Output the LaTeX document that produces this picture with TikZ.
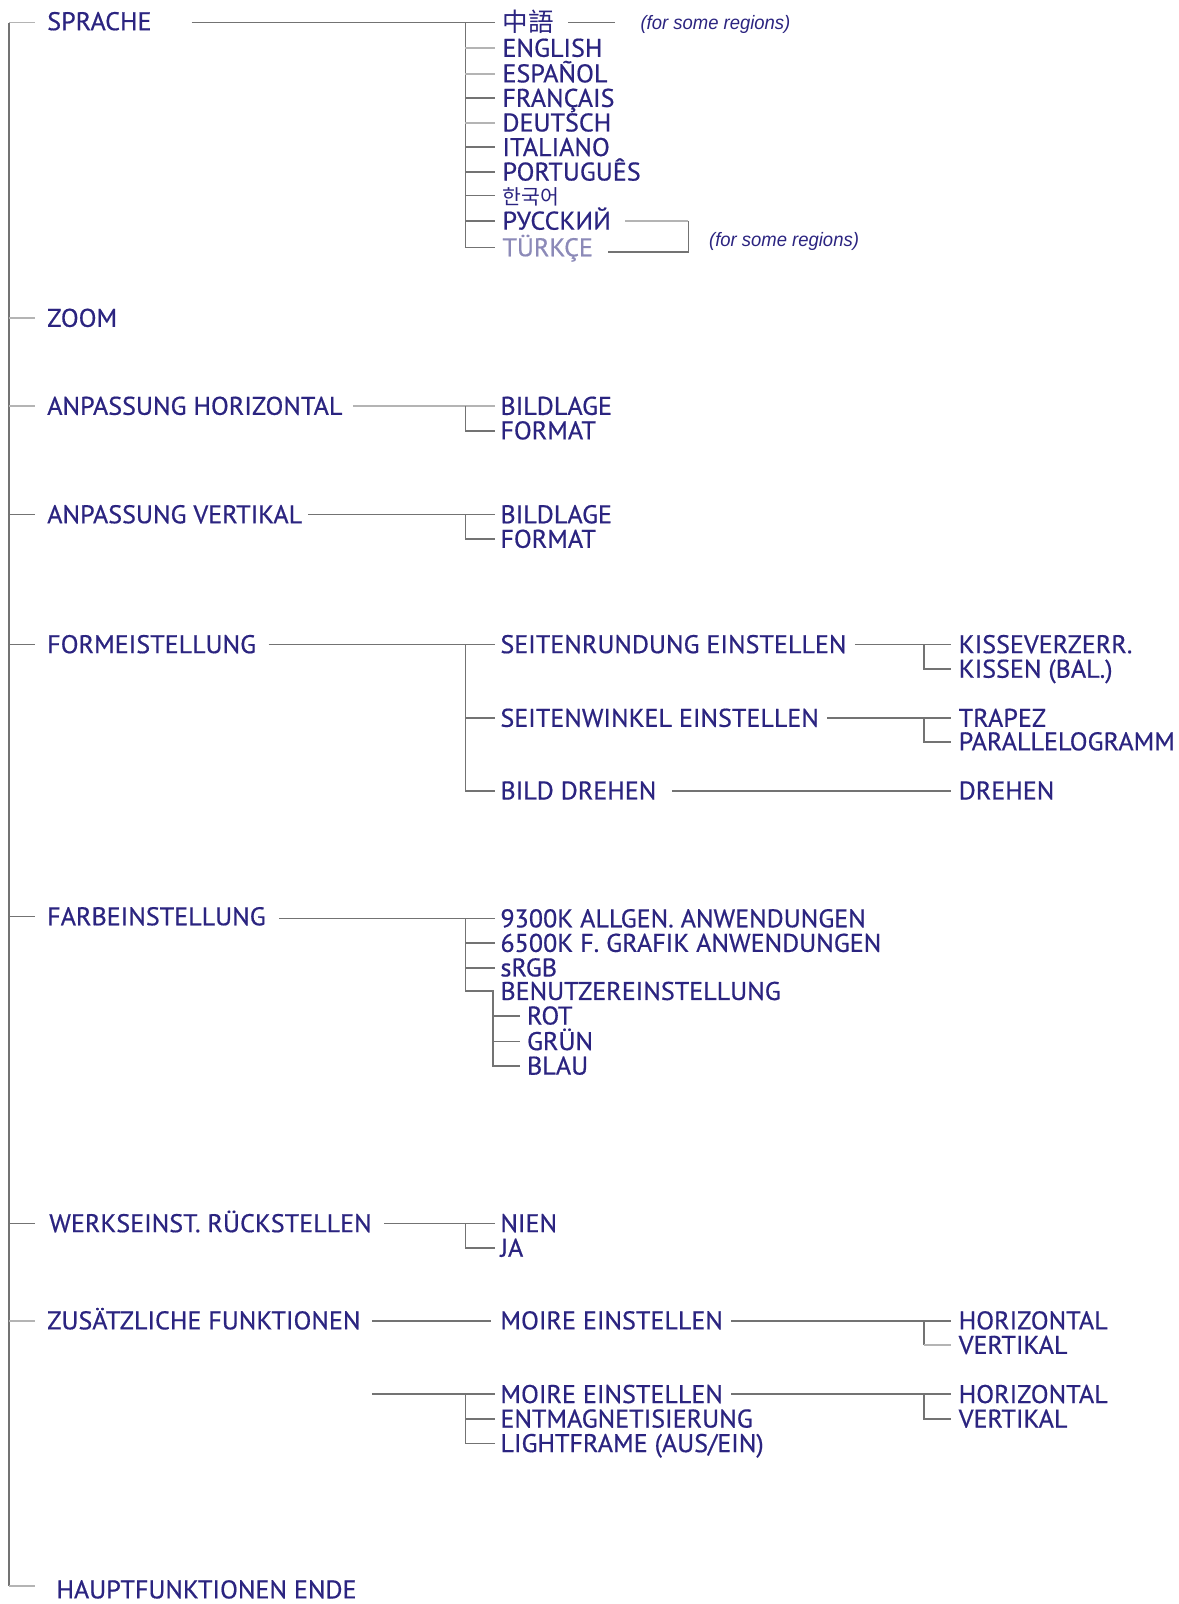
\documentclass[tikz,border=0pt]{standalone}
\usepackage{fontspec}
\setmainfont{PT Sans}[FakeStretch=1.02,FakeBold=0.6]
\newfontfamily\cjktc{Noto Sans CJK TC}
\newfontfamily\cjkkr{Noto Sans CJK KR}
\newfontfamily\notefont{Liberation Sans}[FakeStretch=0.95]
\definecolor{txt}{HTML}{2B2480}
\definecolor{faint}{HTML}{8C8AB8}
\definecolor{ln}{HTML}{737373}
\definecolor{lnl}{HTML}{B4B4B4}
\tikzset{
  lbl/.style={anchor=west, inner sep=0pt, text height=17pt, text depth=0pt, text=txt,
    font=\fontsize{25}{25}\selectfont},
  note/.style={anchor=west, inner sep=0pt, text=txt, font=\notefont\fontsize{19}{19}\selectfont\itshape},
  br/.style={draw=ln, line width=1.7pt},
  brl/.style={draw=lnl, line width=1.9pt}
}
\begin{document}
\begin{tikzpicture}[x=1pt,y=-1pt]
\useasboundingbox (0,0) rectangle (1152,1568);
% ---------- top level labels
\node[lbl] (sprache) at (46,21) {SPRACHE};
\node[lbl] (zoom) at (46,311) {ZOOM};
\node[lbl] (anph) at (46,397) {ANPASSUNG HORIZONTAL};
\node[lbl] (anpv) at (46,503) {ANPASSUNG VERTIKAL};
\node[lbl] (form) at (46,630) {FORMEISTELLUNG};
\node[lbl] (farb) at (46,896) {FARBEINSTELLUNG};
\node[lbl] (werk) at (48,1196) {WERKSEINST. RÜCKSTELLEN};
\node[lbl] (zus) at (46,1291) {ZUSÄTZLICHE FUNKTIONEN};
\node[lbl] (ende) at (55,1554) {HAUPTFUNKTIONEN ENDE};
% main spine
\coordinate (mtop) at (9,22);
\coordinate (mbot) at (9,1550);
\coordinate (mtopend) at (34,22);
\coordinate (mbotend) at (34,1550);
\draw[br] (mtop) -- (mbot);
\draw[brl] (mtop) -- (mtopend);
\draw[brl] (mbot) -- (mbotend);
\draw[brl] (mtop |- zoom) -- ++(25,0);
\draw[brl] (mtop |- anph) -- ++(25,0);
\draw[br] (mtop |- anpv) -- ++(25,0);
\draw[br] (mtop |- form) -- ++(25,0);
\draw[br] (mtop |- farb) -- ++(25,0);
\draw[br] (mtop |- werk) -- ++(25,0);
\draw[brl] (mtop |- zus) -- ++(25,0);
% ---------- SPRACHE
\node[lbl] (zh) at (491,22) {\cjktc 中語};
\node[lbl] (en) at (491,47) {ENGLISH};
\node[lbl] (es) at (491,72) {ESPAÑOL};
\node[lbl] (fr) at (491,96) {FRANÇAIS};
\node[lbl] (de) at (491,120) {DEUTSCH};
\node[lbl] (it) at (491,144) {ITALIANO};
\node[lbl] (pt) at (491,168) {PORTUGUÊS};
\node[lbl, font=\fontsize{20}{20}\selectfont] (ko) at (491,191) {\cjkkr 한국어};
\node[lbl] (ru) at (491,216) {РУССКИЙ};
\node[lbl, text=faint] (tr) at (491,242) {TÜRKÇE};
\coordinate (ls) at (455,22);
\draw[br] ([xshift=39pt]sprache.east |- ls) -- (ls) -- ([xshift=-7pt]zh.west);
\draw[br] (ls) |- ([xshift=-7pt]tr.west);
\foreach \n in {en,es,de}{\draw[brl] (ls |- \n) -- ([xshift=-7pt]\n.west);}
\foreach \n in {fr,it,pt,ko,ru}{\draw[br] (ls |- \n) -- ([xshift=-7pt]\n.west);}
\node[note] (reg1) at (626,24) {(for some regions)};
\draw[br] ([xshift=14pt]zh.east) -- ([xshift=-25pt]reg1.west |- zh);
\node[note] (reg2) at (693,236) {(for some regions)};
\coordinate (rr) at (673,216);
\draw[brl] ([xshift=14pt]ru.east) -- (rr);
\draw[br] (rr) |- ([xshift=14pt]tr.east |- 0,246);
% ---------- ANPASSUNG HORIZONTAL
\node[lbl] (hbild) at (489,397) {BILDLAGE};
\node[lbl] (hform) at (489,421) {FORMAT};
\coordinate (hb) at (455,397);
\draw[brl] ([xshift=10pt]anph.east) -- ([xshift=-5pt]hbild.west);
\draw[br] (hb) |- ([xshift=-5pt]hform.west);
% ---------- ANPASSUNG VERTIKAL
\node[lbl] (vbild) at (489,503) {BILDLAGE};
\node[lbl] (vform) at (489,527) {FORMAT};
\coordinate (vb) at (455,503);
\draw[br] ([xshift=6pt]anpv.east) -- ([xshift=-5pt]vbild.west);
\draw[br] (vb) |- ([xshift=-5pt]vform.west);
% ---------- FORMEISTELLUNG
\node[lbl] (srund) at (489,630) {SEITENRUNDUNG EINSTELLEN};
\node[lbl] (swink) at (489,702) {SEITENWINKEL EINSTELLEN};
\node[lbl] (bdreh) at (489,773) {BILD DREHEN};
\coordinate (fb) at (455,630);
\draw[br] ([xshift=12pt]form.east) -- ([xshift=-5pt]srund.west);
\draw[br] (fb) |- ([xshift=-5pt]bdreh.west);
\draw[br] (fb |- swink) -- ([xshift=-5pt]swink.west);
\node[lbl] (kiss1) at (937,630) {KISSEVERZERR.};
\node[lbl] (kiss2) at (937,654) {KISSEN (BAL.)};
\coordinate (kb) at (903,630);
\draw[br] ([xshift=8pt]srund.east) -- ([xshift=-7pt]kiss1.west);
\draw[br] (kb) |- ([xshift=-7pt]kiss2.west);
\node[lbl] (trap) at (937,702) {TRAPEZ};
\node[lbl] (para) at (937,725) {PARALLELOGRAMM};
\coordinate (tb) at (903,702);
\draw[br] ([xshift=8pt]swink.east) -- ([xshift=-7pt]trap.west);
\draw[br] (tb) |- ([xshift=-7pt]para.west);
\node[lbl] (dreh) at (937,773) {DREHEN};
\draw[br] ([xshift=15pt]bdreh.east) -- ([xshift=-7pt]dreh.west);
% ---------- FARBEINSTELLUNG
\node[lbl] (c93) at (489,898) {9300K ALLGEN. ANWENDUNGEN};
\node[lbl] (c65) at (489,922) {6500K F. GRAFIK ANWENDUNGEN};
\node[lbl] (srgb) at (489,946) {sRGB};
\node[lbl] (benu) at (489,969) {BENUTZEREINSTELLUNG};
\node[lbl] (rot) at (515,993) {ROT};
\node[lbl] (gruen) at (515,1018) {GRÜN};
\node[lbl] (blau) at (515,1042) {BLAU};
\coordinate (cb) at (455,898);
\coordinate (ub) at (482,969);
\draw[br] ([xshift=13pt]farb.east |- cb) -- ([xshift=-5pt]c93.west);
\draw[br] (cb |- c65) -- ([xshift=-5pt]c65.west);
\draw[br] (cb |- srgb) -- ([xshift=-5pt]srgb.west);
\draw[br] (cb) |- (ub) |- ([xshift=-7pt]blau.west);
\draw[br] (ub |- rot) -- ([xshift=-7pt]rot.west);
\draw[br] (ub |- gruen) -- ([xshift=-7pt]gruen.west);
% ---------- WERKSEINST
\node[lbl] (nien) at (489,1196) {NIEN};
\node[lbl] (ja) at (489,1220) {JA};
\coordinate (wb) at (455,1196);
\draw[br] ([xshift=12pt]werk.east) -- ([xshift=-5pt]nien.west);
\draw[br] (wb) |- ([xshift=-5pt]ja.west);
% ---------- ZUSAETZLICHE FUNKTIONEN
\node[lbl] (moire1) at (489,1291) {MOIRE EINSTELLEN};
\draw[br] ([xshift=11pt]zus.east) -- ([xshift=-9pt]moire1.west);
\node[lbl] (hor1) at (937,1291) {HORIZONTAL};
\node[lbl] (ver1) at (937,1315) {VERTIKAL};
\coordinate (m1b) at (903,1291);
\draw[br] ([xshift=8pt]moire1.east) -- ([xshift=-7pt]hor1.west);
\draw[br] (m1b) -- (m1b |- ver1);
\draw[brl] (m1b |- ver1) -- ([xshift=-7pt]ver1.west);
\node[lbl] (moire2) at (489,1363) {MOIRE EINSTELLEN};
\node[lbl] (entm) at (489,1387) {ENTMAGNETISIERUNG};
\node[lbl] (light) at (489,1411) {LIGHTFRAME (AUS/EIN)};
\coordinate (zb) at (455,1363);
\draw[br] ([xshift=11pt]zus.east |- zb) -- ([xshift=-5pt]moire2.west);
\draw[br] (zb) |- ([xshift=-5pt]light.west);
\draw[br] (zb |- entm) -- ([xshift=-5pt]entm.west);
\node[lbl] (hor2) at (937,1363) {HORIZONTAL};
\node[lbl] (ver2) at (937,1387) {VERTIKAL};
\coordinate (m2b) at (903,1363);
\draw[br] ([xshift=8pt]moire2.east) -- ([xshift=-7pt]hor2.west);
\draw[br] (m2b) |- ([xshift=-7pt]ver2.west);
\end{tikzpicture}
\end{document}
